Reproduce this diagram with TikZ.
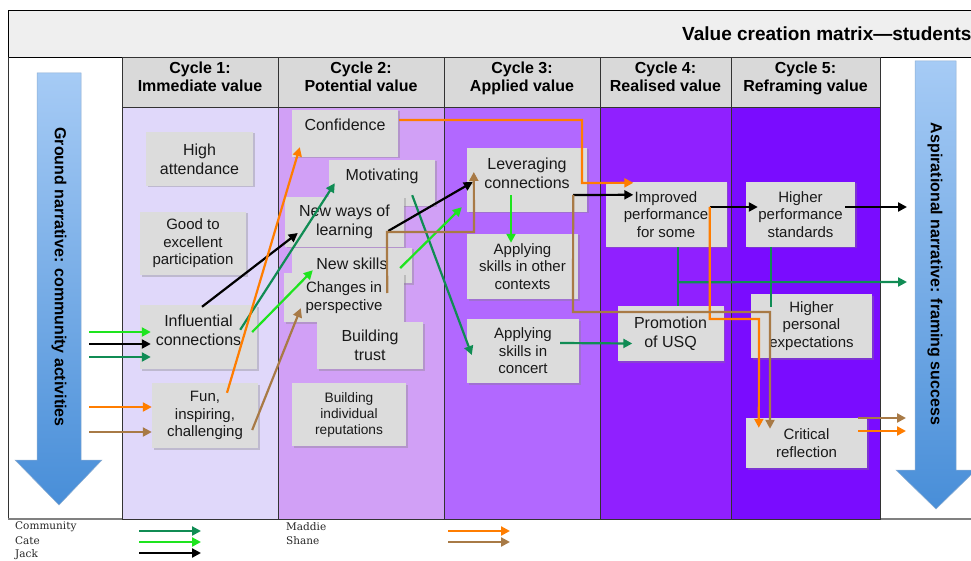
\documentclass[tikz,border=0pt]{standalone}
\usepackage{fontspec}
\setmainfont{Liberation Sans}
\newfontfamily\legendfont{DejaVu Serif}
\usetikzlibrary{arrows.meta,shadows}
\definecolor{cellgray}{RGB}{220,220,220}
\definecolor{headgray}{RGB}{217,217,217}
\definecolor{titlegray}{RGB}{239,239,239}
\definecolor{cycA}{RGB}{224,216,250}
\definecolor{cycB}{RGB}{209,160,246}
\definecolor{cycC}{RGB}{178,104,255}
\definecolor{cycD}{RGB}{144,32,255}
\definecolor{cycE}{RGB}{122,12,255}
\definecolor{comgreen}{RGB}{16,140,84}
\definecolor{categreen}{RGB}{30,228,30}
\definecolor{maddieorange}{RGB}{255,125,0}
\definecolor{shanebrown}{RGB}{168,122,70}
\definecolor{arrowtop}{RGB}{166,203,245}
\definecolor{arrowbottom}{RGB}{72,142,216}
\newcommand{\pad}[1]{\rule[-#1]{0pt}{#1}}
\tikzstyle{cell}=[fill=cellgray,drop shadow={shadow xshift=1.5pt,shadow yshift=-1.5pt,opacity=0.35},align=center,inner sep=0pt,text=black!90,font=\fontsize{16}{19}\selectfont]
\tikzstyle{cellmid}=[cell,font=\fontsize{15}{17.5}\selectfont]
\tikzstyle{cellsmall}=[cell,font=\fontsize{13.7}{16}\selectfont]
\tikzstyle{colbody}=[draw=black!80,line width=0.8pt]
\tikzstyle{head}=[fill=headgray,draw=black!80,line width=0.8pt,align=center,inner sep=0pt,font=\bfseries\fontsize{16}{18}\selectfont]
\tikzstyle{narrative}=[rotate=-90,font=\bfseries\fontsize{16}{19}\selectfont]
\tikzstyle{bigarrow}=[top color=arrowtop,bottom color=arrowbottom,draw=arrowtop!85!black,line width=0.5pt]
\tikzstyle{link}=[line width=2.2pt,-{Triangle[length=9pt,width=9pt]}]
\tikzstyle{community}=[link,draw=comgreen]
\tikzstyle{cate}=[link,draw=categreen]
\tikzstyle{jack}=[link,draw=black]
\tikzstyle{maddie}=[link,draw=maddieorange]
\tikzstyle{shane}=[link,draw=shanebrown]
\tikzstyle{legend}=[anchor=west,inner sep=0pt,text=black!85,font=\legendfont\fontsize{10.5}{12}\selectfont]

\begin{document}
\begin{tikzpicture}[x=1pt,y=-1pt]
\useasboundingbox (0, 0) rectangle (971, 561);

\draw[fill=titlegray,line width=0.8pt] (8, 10) rectangle (990, 57);
\node[anchor=west,inner sep=0pt,font=\bfseries\fontsize{19}{22}\selectfont] (title) at (682, 34) {Value creation matrix—students};
\draw[black!80,line width=0.8pt] (8, 57) -- (8, 519);
\draw[black!50,line width=1.2pt] (8, 519) -- (990, 519);

\draw[colbody,fill=cycA] (122, 107) rectangle (278, 519);
\draw[colbody,fill=cycB] (278, 107) rectangle (444, 519);
\draw[colbody,fill=cycC] (444, 107) rectangle (600, 519);
\draw[colbody,fill=cycD] (600, 107) rectangle (731, 519);
\draw[colbody,fill=cycE] (731, 107) rectangle (880, 519);

\node[head,minimum width=156pt,minimum height=50pt] (cyc1) at (200, 82) {Cycle 1:\\Immediate value\pad{10pt}};
\node[head,minimum width=166pt,minimum height=50pt] (cyc2) at (361, 82) {Cycle 2:\\Potential value\pad{10pt}};
\node[head,minimum width=156pt,minimum height=50pt] (cyc3) at (522, 82) {Cycle 3:\\Applied value\pad{10pt}};
\node[head,minimum width=131pt,minimum height=50pt] (cyc4) at (665.5, 82) {Cycle 4:\\Realised value\pad{10pt}};
\node[head,minimum width=149pt,minimum height=50pt] (cyc5) at (805.5, 82) {Cycle 5:\\Reframing value\pad{10pt}};

\draw[bigarrow] (37, 73) -- (81, 73) -- (81, 460) -- (102, 460) -- (59, 505) -- (15, 460) -- (37, 460) -- cycle;
\node[narrative] (ground) at (59, 277) {Ground narrative: community activities};
\draw[bigarrow] (915, 61) -- (956, 61) -- (956, 470) -- (976, 470) -- (936, 509) -- (896, 470) -- (915, 470) -- cycle;
\node[narrative] (aspire) at (935, 274) {Aspirational narrative: framing success};

\node[cell,minimum width=107pt,minimum height=54pt] (attend) at (199.5, 159) {High\\attendance};
\node[cellmid,minimum width=106pt,minimum height=63pt] (partic) at (193, 243.5) {Good to\\excellent\\participation};
\node[cell,minimum width=117pt,minimum height=64pt] (infl) at (198.5, 337) {Influential\\connections\pad{13pt}};
\node[cellmid,minimum width=106pt,minimum height=65pt] (fun) at (205, 415.5) {Fun,\\inspiring,\\challenging};

\node[cell,minimum width=106pt,minimum height=47pt] (confid) at (345, 133.5) {Confidence\pad{17pt}};
\node[cell,minimum width=106pt,minimum height=46pt] (motiv) at (382, 183) {Motivating\pad{17pt}};
\node[cell,minimum width=119pt,minimum height=50pt] (newways) at (344.5, 222) {New ways of\\learning};
\node[cell,minimum width=120pt,minimum height=35pt] (newskills) at (352, 265.5) {New skills\pad{4pt}};
\node[cellmid,minimum width=120pt,minimum height=49pt] (changes) at (344, 297.5) {Changes in\\perspective};
\node[cell,minimum width=106pt,minimum height=47pt] (trust) at (370, 345.5) {Building\\trust};
\node[cellsmall,minimum width=114pt,minimum height=63pt] (reput) at (349, 414.5) {Building\\individual\\reputations};

\node[cell,minimum width=120pt,minimum height=64pt] (lever) at (527, 180) {Leveraging\\connections\pad{14pt}};
\node[cellmid,minimum width=111pt,minimum height=65pt] (applyother) at (522.5, 266.5) {Applying\\skills in other\\contexts};
\node[cellmid,minimum width=112pt,minimum height=64pt] (applyconcert) at (523, 351) {Applying\\skills in\\concert};

\node[cellmid,minimum width=121pt,minimum height=65pt] (improved) at (666, 214.5) {Improved\\performance\\for some};
\node[cell,minimum width=106pt,minimum height=55pt] (promotion) at (670.5, 333.5) {Promotion\\of USQ};

\node[cellmid,minimum width=109pt,minimum height=65pt] (highstd) at (800.5, 214.5) {Higher\\performance\\standards};
\node[cellmid,minimum width=121pt,minimum height=64pt] (highexp) at (811.5, 326) {Higher\\personal\\expectations};
\node[cellmid,minimum width=121pt,minimum height=50pt] (critical) at (806.5, 443) {Critical\\reflection};

\coordinate (incate) at (89, 332);
\coordinate (injack) at (89, 344);
\coordinate (incom) at (89, 357);
\coordinate (inmad) at (89, 407);
\coordinate (inshane) at (89, 432);
\coordinate (outjack) at (907, 207);
\coordinate (outcom) at (907, 282);
\coordinate (outshane) at (906, 418);
\coordinate (outmad) at (906, 431);

\draw[community,shorten >=-11pt] (incom) -- (incom -| infl.west);
\draw[community] ([shift={(-17,25)}]infl.north east) -- ([shift={(6,-23)}]motiv.south west);
\draw[community] ([shift={(-23,-11)}]motiv.south east) -- ([shift={(5,4)}]applyconcert.west);
\draw[community] ([shift={(-19,-8)}]applyconcert.east) -- ([shift={(15,10)}]promotion.west);
\draw[community,-] ([xshift=12pt]improved.south) -- ([xshift=12pt]improved.south |- promotion.north);
\draw[community] ([xshift=12pt,yshift=-35pt]improved.south) -- (outcom);
\draw[community,-] ([xshift=-29.5pt]highstd.south) -- ++(0, 60);

\draw[cate,shorten >=-11pt] (incate) -- (incate -| infl.west);
\draw[cate] ([shift={(-5,-5)}]infl.east) -- ([shift={(21,-13)}]newskills.south west);
\draw[cate] ([shift={(-12,2.5)}]newskills.east) -- ([shift={(-5,-5)}]lever.south west);
\draw[cate] ([shift={(-16,-17)}]lever.south) -- ([shift={(-11.5,9)}]applyother.north);

\draw[jack,shorten >=-11pt] (injack) -- (injack -| infl.west);
\draw[jack] ([shift={(3.5,2)}]infl.north) -- ([shift={(13,11)}]newways.west);
\draw[jack] ([shift={(-16,9)}]newways.east) -- ([shift={(6,2)}]lever.west);
\draw[jack] ([shift={(-14,15)}]lever.east) -- ([shift={(28,13)}]improved.north west);
\draw[jack] ([shift={(-17,-7.5)}]improved.east) -- ([shift={(12,-7.5)}]highstd.west);
\draw[jack] ([shift={(-10,-7.5)}]highstd.east) -- (outjack);

\draw[maddie] (inmad) -- (inmad -| fun.west);
\draw[maddie] ([shift={(22,10)}]fun.north) -- ([shift={(8,-10)}]confid.south west);
\draw[maddie] ([shift={(1,-13.5)}]confid.east) -- (582, 120) -- (582, 183) -- ([shift={(28,1)}]improved.north west);
\draw[maddie] ([shift={(-17,-7.5)}]improved.east) |- (759, 319) -- ([shift={(13,10)}]critical.north west);
\draw[maddie] ([shift={(-9,-12)}]critical.east) -- (outmad);

\draw[shane] (inshane) -- (inshane -| fun.west);
\draw[shane] ([shift={(-6,14.5)}]fun.east) -- ([shift={(17,-14)}]changes.south west);
\draw[shane] ([shift={(-17,-4.5)}]changes.east) -- (387, 232) -- (474, 232) -- ([shift={(7,-8)}]lever.west);
\draw[shane] ([shift={(-14,15)}]lever.east) -- (573, 312) -- (770, 312) -- ([shift={(-36.5,11)}]critical.north);
\draw[shane] ([shift={(-9,-25)}]critical.east) -- (outshane);

\node[legend] (lcom) at (15, 527) {Community};
\node[legend] (lcate) at (15, 541) {Cate};
\node[legend] (ljack) at (15, 555) {Jack};
\node[legend] (lmad) at (286, 527) {Maddie};
\node[legend] (lshane) at (286, 541) {Shane};
\coordinate (kcom) at (139, 531);
\coordinate (kcate) at (139, 542);
\coordinate (kjack) at (139, 553);
\coordinate (kmad) at (448, 531);
\coordinate (kshane) at (448, 542);
\draw[community] (kcom) -- ++(62, 0);
\draw[cate] (kcate) -- ++(62, 0);
\draw[jack] (kjack) -- ++(62, 0);
\draw[maddie] (kmad) -- ++(62, 0);
\draw[shane] (kshane) -- ++(62, 0);
\end{tikzpicture}
\end{document}
